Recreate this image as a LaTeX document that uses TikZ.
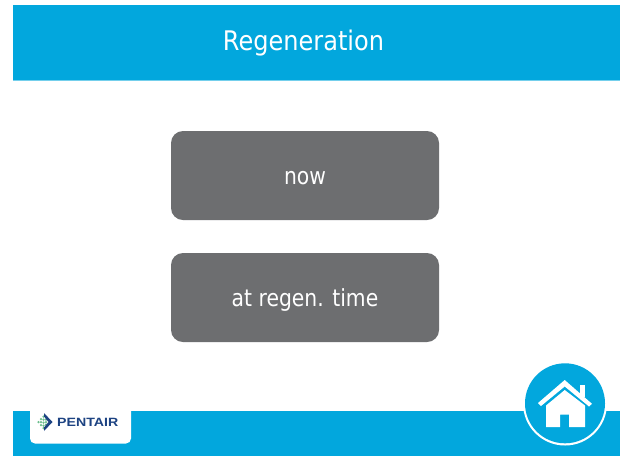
\documentclass[tikz,border=0pt]{standalone}
\usepackage{fontspec}
\setmainfont{DejaVu Sans}
\newfontfamily\btnfont[FakeStretch=.865]{DejaVu Sans}
\newfontfamily\titlefont[FakeStretch=.89]{DejaVu Sans}
\newfontfamily\logofont[FakeStretch=1.18]{Liberation Sans}
\definecolor{pblue}{HTML}{02A7DD}
\definecolor{pgrey}{HTML}{6D6E70}
\definecolor{pnavy}{HTML}{1D4382}
\definecolor{pgreen}{HTML}{6CBF8E}
\tikzset{
  band/.style={fill=pblue,draw=none},
  btn/.style={rectangle,rounded corners=12pt,fill=pgrey,draw=none,text=white,minimum width=268pt,minimum height=89pt,inner sep=0pt,text height=17.5pt,text depth=0pt,font=\btnfont\fontsize{23.5}{26}\selectfont},
  housepart/.style={fill=white,draw=none}
}
\begin{document}
\begin{tikzpicture}[x=1pt,y=-1pt]
\useasboundingbox (0,0) rectangle (620,456);
\fill[white] (0,0) rectangle (620,456);
% bands
\fill[band] (13,5) rectangle (620,81);
\fill[pblue!55!white] (13,79.7) rectangle (620,81);
\fill[band] (13,410.5) rectangle (620,456);
\node[text=white,font=\titlefont\fontsize{27}{30}\selectfont,inner sep=0pt,anchor=base] (title) at (303.5,50.7) {Regeneration};
% buttons
\node[btn] (now) at (305,175.5) {now};
\node[btn] (regen) at (305,297.5) {at regen. time};
% logo plate
\fill[white,rounded corners=5pt] (30,400) -- (30,443.5) -- (131,443.5) -- (131,400) -- cycle;
\foreach \p in {(38.5,422),(41,419),(41,422),(41,425),(43.5,416.5),(43.5,419.5),(43.5,422.5),(43.5,425.5),(43.5,428),(46,419.5),(46,422),(46,424.5)}
  \fill[pgreen] \p circle (1.25pt);
\fill[pnavy] (44,413) -- (52.5,422) -- (44,431) -- (44,427.5) -- (48.5,422) -- (44,416.5) -- cycle;
\node[text=pnavy,font=\logofont\bfseries\fontsize{12}{14}\selectfont,inner sep=0pt,anchor=base west] (logo) at (57,426.5) {PENTAIR};
% home button
\fill[white] (565,403.5) circle (42pt);
\fill[pblue] (565,403.3) circle (40pt);
\fill[housepart] (580,385) rectangle (585,397);
\fill[housepart] (564.7,380) -- (592,403.8) -- (589,406.5) -- (564.7,386.5) -- (541,406) -- (538,403) -- cycle;
\fill[housepart] (546,405.5) -- (564.7,390) -- (585,405.5) -- (585,427) -- (569,427) -- (569,414.5) -- (560,414.5) -- (560,427) -- (546,427) -- cycle;
\end{tikzpicture}
\end{document}
